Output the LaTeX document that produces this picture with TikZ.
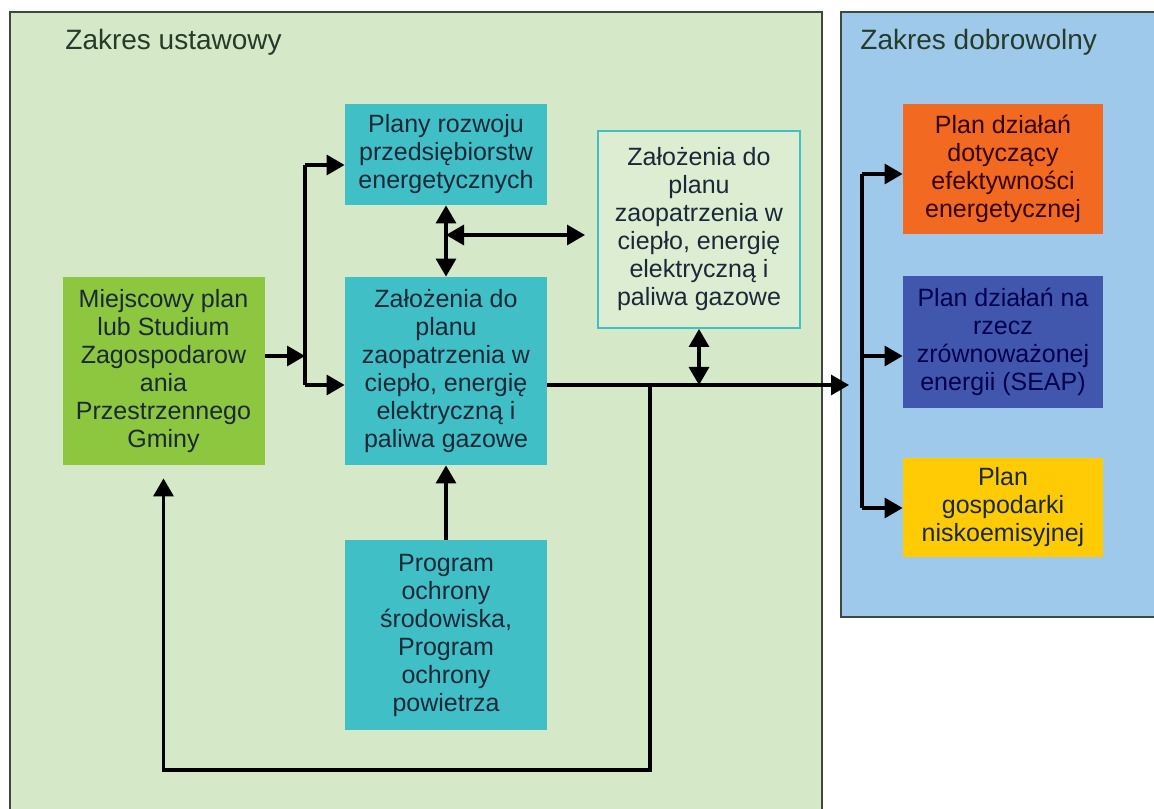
\documentclass[tikz,border=0pt]{standalone}
\usepackage{fontspec}
\setmainfont{Liberation Sans}
\usetikzlibrary{positioning,arrows.meta}
\definecolor{zielen}{HTML}{D5E8C8}
\definecolor{ramka}{HTML}{3C4A3C}
\definecolor{niebieski}{HTML}{9FC9EB}
\definecolor{turkus}{HTML}{41BFC6}
\definecolor{oliwka}{HTML}{8DC63F}
\definecolor{pomarancz}{HTML}{F26A21}
\definecolor{granat}{HTML}{4157AE}
\definecolor{zolty}{HTML}{FFCB05}
\definecolor{jasny}{HTML}{DCEDD2}
\definecolor{tekst}{HTML}{1B2838}
\definecolor{naglowek}{HTML}{263B2A}

\begin{document}
\begin{tikzpicture}[x=1pt,y=1pt,on grid,
    box/.style={minimum width=101pt,inner sep=0pt,align=center,text=tekst,
        font=\fontsize{12.5}{14}\selectfont},
    tytul/.style={anchor=base west,inner sep=0pt,text=naglowek,font=\fontsize{14}{16}\selectfont},
    strz/.style={line width=1.6pt,-{Triangle[length=9pt,width=10pt]}},
    dwustrz/.style={line width=1.6pt,{Triangle[length=9pt,width=10pt]}-{Triangle[length=9pt,width=10pt]}},
    linia/.style={line width=1.6pt}]
    \useasboundingbox (0,0) rectangle (577,404);
    % tla zakresow
    \draw[fill=zielen,draw=ramka,line width=1pt] (5,-5) rectangle (411,398);
    \draw[fill=niebieski,draw=ramka,line width=1pt] (420.5,95.5) rectangle (590,398);
    \node[tytul] (ustaw) at (32.5,379) {Zakres ustawowy};
    \node[tytul] (dobrow) at (430,379) {Zakres dobrowolny};

    \node[box,fill=oliwka,minimum height=94pt] (miejsc) at (81.75,218.5)
        {Miejscowy plan\\lub Studium\\Zagospodarow\\ania\\Przestrzennego\\Gminy};
    \node[box,fill=turkus,minimum height=94pt,right=141.25pt of miejsc] (zal)
        {Założenia do\\planu\\zaopatrzenia w\\ciepło, energię\\elektryczną i\\paliwa gazowe};
    \node[box,fill=turkus,minimum height=50.5pt,above=108.25pt of zal] (plany)
        {Plany rozwoju\\przedsiębiorstw\\energetycznych};
    \node[box,fill=turkus,minimum height=95pt,below=132pt of zal] (prog)
        {Program\\ochrony\\środowiska,\\Program\\ochrony\\powietrza};
    \node[box,fill=jasny,draw=turkus,line width=1pt,minimum height=98.5pt,
        above right=70.75pt and 126.5pt of zal] (zalout)
        {Założenia do\\planu\\zaopatrzenia w\\ciepło, energię\\elektryczną i\\paliwa gazowe};
    \node[box,fill=pomarancz,text=black!80!red,minimum width=100pt,minimum height=65pt,
        above right=30.25pt and 152pt of zalout] (eff)
        {Plan działań\\dotyczący\\efektywności\\energetycznej};
    \node[box,fill=granat,text=blue!30!black,minimum width=100pt,minimum height=66pt,
        below=86.5pt of eff] (seap)
        {Plan działań na\\rzecz\\zrównoważonej\\energii (SEAP)};
    \node[box,fill=zolty,minimum width=100pt,minimum height=49.5pt,
        below=82.75pt of seap] (nisk)
        {Plan\\gospodarki\\niskoemisyjnej};

    \coordinate (wezel) at (152.5,226);
    \coordinate (szyna1) at (152.5,321.5);
    \coordinate (szyna2) at (152.5,211.5);
    \coordinate (poz) at (223,286.5);
    \coordinate (wejscie) at (424.5,211.5);
    \coordinate (petla) at (325,211.5);
    \coordinate (dol) at (325,19);
    \coordinate (prawa1) at (431,317);
    \coordinate (prawa2) at (431,226);
    \coordinate (prawa3) at (431,150);

    \draw[strz] (miejsc.east |- wezel) -- (wezel);
    \draw[linia] (szyna1) -- (szyna2);
    \draw[strz] (szyna1) -- (plany.west |- szyna1);
    \draw[strz] (szyna2) -- (zal.west |- szyna2);
    \draw[dwustrz] (plany.south) -- (zal.north);
    \draw[dwustrz,shorten >=6pt] (poz) -- (zalout.west |- poz);
    \draw[strz] (zal.east |- wejscie) -- (wejscie);
    \draw[dwustrz] (zalout.south) -- (zalout.south |- wejscie);
    \draw[strz] (prog.north) -- (zal.south);
    \draw[strz,shorten >=6.5pt] (petla) -- (dol) -| (miejsc.south);
    \draw[linia] (prawa1) -- (prawa3);
    \draw[strz] (prawa1) -- (eff.west |- prawa1);
    \draw[strz] (prawa2) -- (seap.west |- prawa2);
    \draw[strz] (prawa3) -- (nisk.west |- prawa3);
\end{tikzpicture}
\end{document}
